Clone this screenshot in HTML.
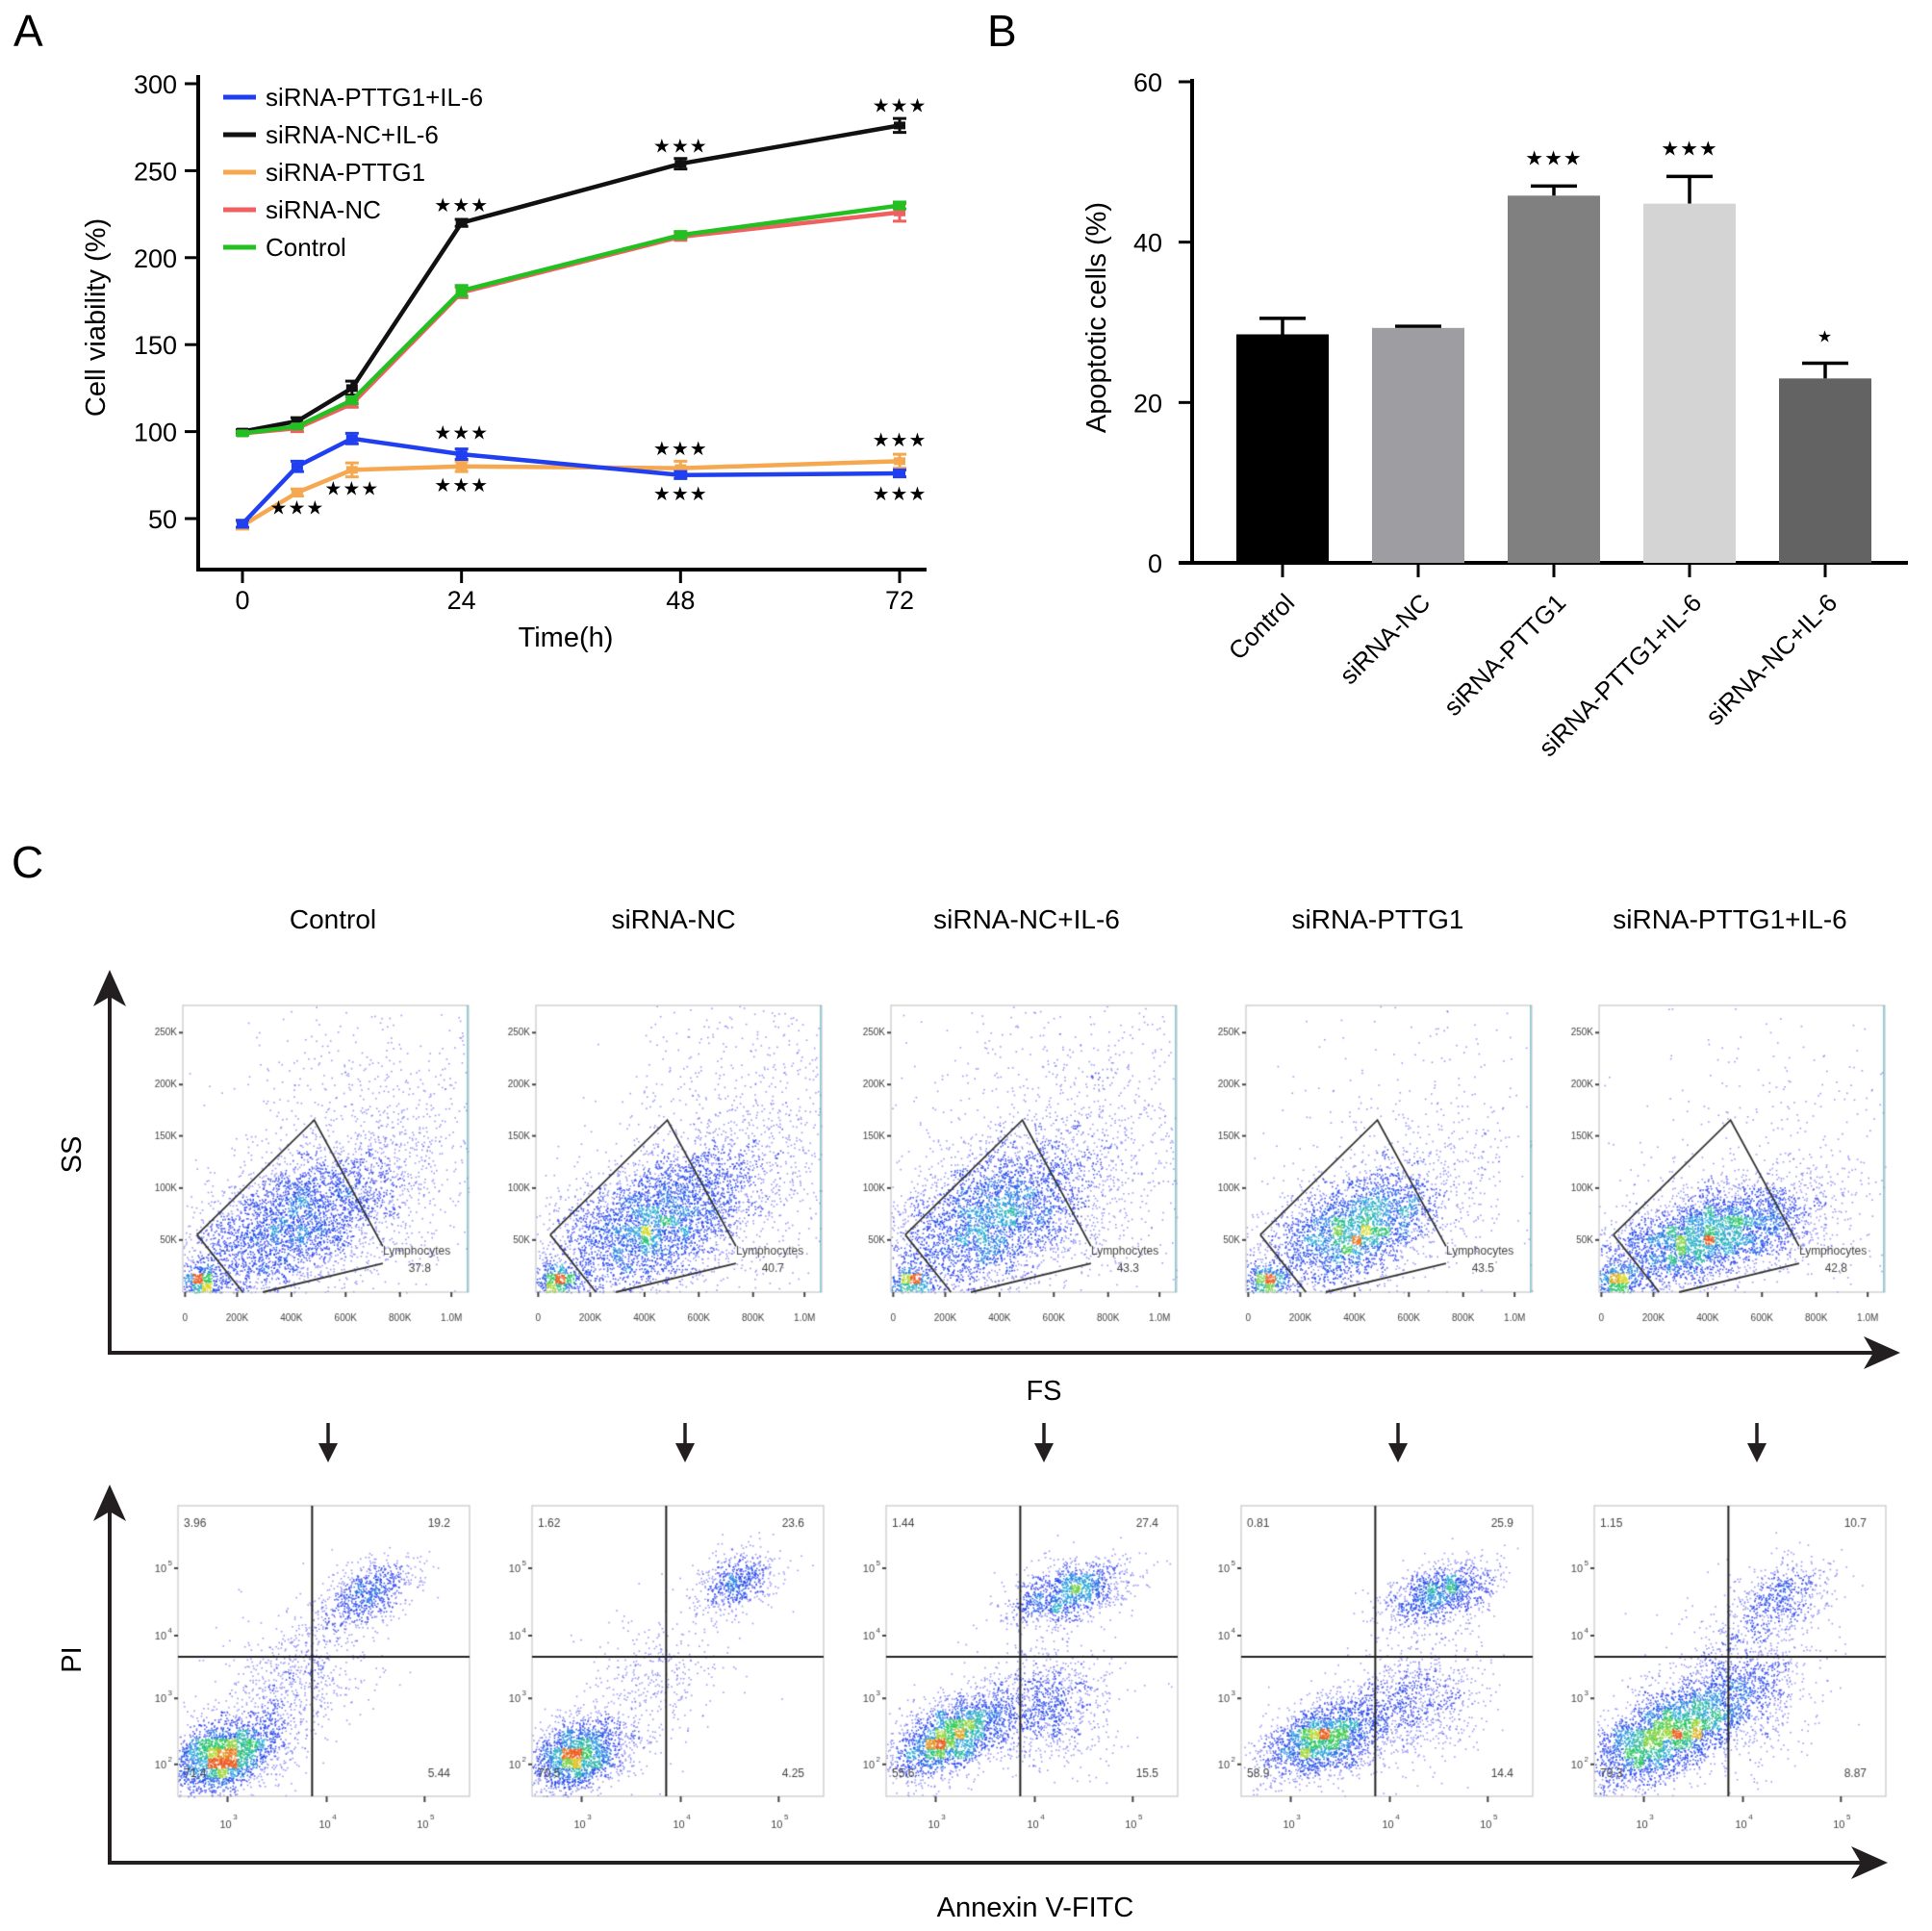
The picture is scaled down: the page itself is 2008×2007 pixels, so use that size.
<!DOCTYPE html>
<html><head><meta charset="utf-8">
<style>
html,body{margin:0;padding:0;background:#fff;}
#wrap{position:relative;width:2008px;height:2007px;overflow:hidden;font-family:"Liberation Sans",Arial,sans-serif;}
svg{position:absolute;left:0;top:0;}
canvas{position:absolute;}
</style></head>
<body>
<div id="wrap">
<svg id="main" width="2008" height="2007" font-family="Liberation Sans, Arial, sans-serif"></svg>
</div>
<script>
// ---------- Panel A data ----------
const timesA = [0, 6, 12, 24, 48, 72];
const seriesNames = ["siRNA-PTTG1+IL-6", "siRNA-NC+IL-6", "siRNA-PTTG1", "siRNA-NC", "Control"];
const seriesColors = ["#1f3ff0", "#111111", "#f5a850", "#f06060", "#22c020"];
const valsBlue = [47, 80, 96, 87, 75, 76];
const valsBlack = [100, 106, 125, 220, 254, 276];
const valsOrange = [46, 65, 78, 80, 79, 83];
const valsRed = [99, 102, 116, 180, 212, 226];
const valsGreen = [99, 103, 118, 181, 213, 230];
const errBlue = [2, 3, 3, 3, 2, 2];
const errBlack = [1, 2, 4, 2, 3, 4];
const errOrange = [2, 2, 4, 3, 4, 4];
const errRed = [1, 2, 2, 3, 2, 5];
const errGreen = [1, 1, 2, 3, 2, 2];
const yTicksA = [50, 100, 150, 200, 250, 300];
const xTicksA = [0, 24, 48, 72];
// star annotations: [time, value, count]
const starsA = [[24, 231, 3], [48, 265, 3], [72, 288, 3], [24, 100, 3], [48, 91, 3], [72, 96, 3], [6, 57, 3], [12, 68, 3], [24, 70, 3], [48, 65, 3], [72, 65, 3]];

// ---------- Panel B data ----------
const catsB = ["Control", "siRNA-NC", "siRNA-PTTG1", "siRNA-PTTG1+IL-6", "siRNA-NC+IL-6"];
const valsB = [28.5, 29.3, 45.8, 44.8, 23.0];
const errB = [2.0, 0.2, 1.2, 3.4, 1.9];
const starsB = ["", "", "★★★", "★★★", "★"];
const barColorsB = ["#000000", "#9d9da2", "#808080", "#d4d4d4", "#636363"];
const yTicksB = [0, 20, 40, 60];

// ---------- Panel C data ----------
const groupsC = ["Control", "siRNA-NC", "siRNA-NC+IL-6", "siRNA-PTTG1", "siRNA-PTTG1+IL-6"];
const gatePct = ["37.8", "40.7", "43.3", "43.5", "42.8"];
const quadUL = ["3.96", "1.62", "1.44", "0.81", "1.15"];
const quadUR = ["19.2", "23.6", "27.4", "25.9", "10.7"];
const quadLL = ["71.4", "70.5", "55.6", "58.9", "79.3"];
const quadLR = ["5.44", "4.25", "15.5", "14.4", "8.87"];
// cluster specs (fractions of plot box): [cx, cy, sx, sy, rot, n]
const fsClusters = [
  [[0.38,0.76,0.22,0.11,-0.5,3500],[0.07,0.96,0.04,0.03,0,350],[0.70,0.48,0.24,0.28,0,900]],
  [[0.40,0.76,0.22,0.11,-0.5,3800],[0.07,0.96,0.04,0.03,0,350],[0.75,0.48,0.22,0.28,0,900]],
  [[0.35,0.74,0.22,0.12,-0.5,3600],[0.07,0.96,0.04,0.03,0,300],[0.65,0.45,0.28,0.28,0,1000]],
  [[0.37,0.78,0.18,0.09,-0.45,3000],[0.07,0.96,0.04,0.03,0,300],[0.65,0.50,0.28,0.28,0,450]],
  [[0.37,0.80,0.21,0.08,-0.30,3800],[0.06,0.96,0.04,0.03,0,350],[0.65,0.55,0.28,0.28,0,350]]
];
const annClusters = [
  [[0.16,0.86,0.10,0.06,-0.4,2200],[0.40,0.60,0.16,0.10,-0.8,800],[0.65,0.30,0.09,0.05,-0.5,700]],
  [[0.15,0.86,0.09,0.06,-0.4,1800],[0.40,0.62,0.16,0.10,-0.8,450],[0.70,0.26,0.07,0.05,-0.5,600]],
  [[0.22,0.79,0.12,0.06,-0.5,2200],[0.55,0.68,0.11,0.10,-0.5,1000],[0.62,0.30,0.11,0.05,-0.3,1200]],
  [[0.28,0.80,0.11,0.06,-0.4,2000],[0.58,0.68,0.13,0.10,-0.5,1000],[0.68,0.30,0.10,0.05,-0.3,1100]],
  [[0.24,0.79,0.15,0.07,-0.5,3000],[0.50,0.62,0.13,0.11,-0.6,1100],[0.63,0.32,0.10,0.06,-0.4,600]]
];

const NS = "http://www.w3.org/2000/svg";
const svg = document.getElementById("main");
function el(tag, attrs, parent) {
  const e = document.createElementNS(NS, tag);
  for (const k in attrs) e.setAttribute(k, attrs[k]);
  (parent || svg).appendChild(e);
  return e;
}
function txt(s, attrs, parent) { const t = el("text", attrs, parent); t.textContent = s; return t; }

// ================= Panel A =================
const gA = el("g", {});


const lA = txt("A", {x: 14, y: 48, "font-size": 46});


function xA(t) { return 252 + t * (935 - 252) / 72; }
function yA(v) { return 539 - (v - 50) * 1.808; }
const axA = el("path", {d: "M206 78 V592 H963", fill: "none", stroke: "#000", "stroke-width": 4}, gA);


yTicksA.forEach(v => {
  el("line", {x1: 192, x2: 206, y1: yA(v), y2: yA(v), stroke: "#000", "stroke-width": 3}, gA);
  const t = txt(String(v), {x: 184, y: yA(v) + 10, "text-anchor": "end", "font-size": 27}, gA);
  
  
});
xTicksA.forEach(v => {
  el("line", {x1: xA(v), x2: xA(v), y1: 592, y2: 606, stroke: "#000", "stroke-width": 3}, gA);
  const t = txt(String(v), {x: xA(v), y: 633, "text-anchor": "middle", "font-size": 27}, gA);
  
  
});
const xtA = txt("Time(h)", {x: 588, y: 672, "text-anchor": "middle", "font-size": 29}, gA);


const ytA = txt("Cell viability (%)", {x: 0, y: 0, "text-anchor": "middle", "font-size": 29, transform: "translate(109,330) rotate(-90)"}, gA);



const allVals = [valsBlue, valsBlack, valsOrange, valsRed, valsGreen];
const allErr = [errBlue, errBlack, errOrange, errRed, errGreen];
const drawOrder = [1, 3, 4, 2, 0];
drawOrder.forEach(si => {
  const vals = allVals[si], errs = allErr[si];
  const pts = timesA.map((t, i) => xA(t) + "," + yA(vals[i])).join(" ");
  const pl = el("polyline", {points: pts, fill: "none", stroke: seriesColors[si], "stroke-width": 4.5}, gA);
  
  
  timesA.forEach((t, i) => {
    const x = xA(t), y1 = yA(vals[i] + errs[i]), y2 = yA(vals[i] - errs[i]);
    el("path", {d: `M${x-7} ${y1}H${x+7}M${x} ${y1}V${y2}M${x-7} ${y2}H${x+7}`, stroke: seriesColors[si], "stroke-width": 3, fill: "none"}, gA);
    const m = el("rect", {x: x - 6, y: yA(vals[i]) - 4, width: 12, height: 8, fill: seriesColors[si]}, gA);
    
    
  });
});
starsA.forEach(s => {
  const t = txt("★".repeat(s[2]), {x: xA(s[0]), y: yA(s[1]) + 8, "text-anchor": "middle", "font-size": 20, "letter-spacing": 1}, gA);
  
  
});
seriesNames.forEach((n, i) => {
  const y = 101 + i * 39;
  const g = el("g", {}, gA);
  
  
  el("line", {x1: 232, x2: 266, y1: y, y2: y, stroke: seriesColors[i], "stroke-width": 5}, g);
  txt(n, {x: 276, y: y + 9, "font-size": 26}, g);
});

// ================= Panel B =================
const gB = el("g", {});


const lB = txt("B", {x: 1026, y: 48, "font-size": 46});


function yB(v) { return 585 - v * 500 / 60; }
function xB(i) { return 1333 + i * 141; }
const axB = el("path", {d: "M1239 82 V585 M1225 585 H1983", fill: "none", stroke: "#000", "stroke-width": 4}, gB);


yTicksB.forEach(v => {
  el("line", {x1: 1225, x2: 1239, y1: yB(v), y2: yB(v), stroke: "#000", "stroke-width": 3}, gB);
  const t = txt(String(v), {x: 1208, y: yB(v) + 10, "text-anchor": "end", "font-size": 27}, gB);
  
  
});
const ytB = txt("Apoptotic cells (%)", {x: 0, y: 0, "text-anchor": "middle", "font-size": 29, transform: "translate(1149,330) rotate(-90)"}, gB);


catsB.forEach((c, i) => {
  const cx = xB(i), top = yB(valsB[i]), et = yB(valsB[i] + errB[i]);
  el("path", {d: `M${cx} ${top}V${et}M${cx-24} ${et}H${cx+24}`, stroke: "#000", "stroke-width": 3.5, fill: "none"}, gB);
  const b = el("rect", {x: cx - 48, y: top, width: 96, height: 585 - top, fill: barColorsB[i]}, gB);
  
  
  el("line", {x1: cx, x2: cx, y1: 585, y2: 600, stroke: "#000", "stroke-width": 3}, gB);
  const t = txt(c, {x: 0, y: 0, "text-anchor": "end", "font-size": 26, transform: `translate(${cx + 14},${628}) rotate(-45)`}, gB);
  
  
  if (starsB[i]) {
    const s = txt(starsB[i], {x: cx, y: et - 22, "text-anchor": "middle", "font-size": starsB[i].length > 1 ? 21 : 17, "letter-spacing": 1}, gB);
    
    
  }
});

// ================= Panel C =================
const gC = el("g", {});


const lC = txt("C", {x: 12, y: 912, "font-size": 46});


const titleX = [346, 700, 1067, 1432, 1798];
groupsC.forEach((g, i) => {
  const t = txt(g, {x: titleX[i], y: 965, "text-anchor": "middle", "font-size": 28}, gC);
  
  
});
function arrowV(x, yb, ytip, name) {
  const g = el("g", {}, gC);
  
  
  el("line", {x1: x, x2: x, y1: yb, y2: ytip + 20, stroke: "#231f20", "stroke-width": 4}, g);
  el("path", {d: `M${x} ${ytip} L${x-17} ${ytip+38} L${x} ${ytip+28} L${x+17} ${ytip+38}Z`, fill: "#231f20"}, g);
}
function arrowH(y, xl, xtip, name) {
  const g = el("g", {}, gC);
  
  
  el("line", {x1: xl, x2: xtip - 20, y1: y, y2: y, stroke: "#231f20", "stroke-width": 4}, g);
  el("path", {d: `M${xtip} ${y} L${xtip-38} ${y-17} L${xtip-28} ${y} L${xtip-38} ${y+17}Z`, fill: "#231f20"}, g);
}
arrowV(114, 1408, 1008, "ss-axis-arrow");
arrowH(1406, 112, 1975, "fs-axis-arrow");
arrowV(114, 1938, 1543, "pi-axis-arrow");
arrowH(1936, 112, 1962, "annexin-axis-arrow");
const axLabels = [["SS", "translate(84,1200) rotate(-90)"], ["PI", "translate(84,1725) rotate(-90)"]];
axLabels.forEach(a => {
  const t = txt(a[0], {x: 0, y: 0, "text-anchor": "middle", "font-size": 29, transform: a[1]}, gC);
  
  
});
const fsT = txt("FS", {x: 1085, y: 1455, "text-anchor": "middle", "font-size": 29}, gC);


const anT = txt("Annexin V-FITC", {x: 1076, y: 1992, "text-anchor": "middle", "font-size": 29}, gC);


const downX = [341, 712, 1085, 1453, 1826];
downX.forEach(x => {
  const g = el("g", {}, gC);
  
  
  el("line", {x1: x, x2: x, y1: 1479, y2: 1505, stroke: "#231f20", "stroke-width": 3.5}, g);
  el("path", {d: `M${x} 1520 L${x-10} 1500 L${x+10} 1500Z`, fill: "#231f20"}, g);
});

const topLefts = [190, 557, 926, 1295, 1662];
const botLefts = [185, 553, 921, 1290, 1657];
let seed = 12345;
function rnd() { seed |= 0; seed = seed + 0x6D2B79F5 | 0; let t = Math.imul(seed ^ seed >>> 15, 1 | seed); t = t + Math.imul(t ^ t >>> 7, 61 | t) ^ t; return ((t ^ t >>> 14) >>> 0) / 4294967296; }
function gauss() { return Math.sqrt(-2 * Math.log(rnd() + 1e-9)) * Math.cos(2 * Math.PI * rnd()); }
function densColor(f) {
  const stops = [[0, [80, 70, 235]], [0.35, [30, 70, 235]], [0.55, [40, 170, 220]], [0.72, [40, 200, 90]], [0.88, [220, 220, 40]], [1, [235, 90, 30]]];
  for (let i = 1; i < stops.length; i++) if (f <= stops[i][0]) {
    const a = stops[i - 1], b = stops[i], u = (f - a[0]) / (b[0] - a[0]);
    return `rgb(${a[1].map((c, k) => Math.round(c + (b[1][k] - c) * u)).join(",")})`;
  }
  return "rgb(235,90,30)";
}
function drawDots(ctx, W, H, clusters) {
  const pts = [];
  clusters.forEach(c => {
    for (let i = 0; i < c[5]; i++) {
      const a = gauss() * c[2], b = gauss() * c[3];
      const x = c[0] + a * Math.cos(c[4]) - b * Math.sin(c[4]);
      const y = c[1] + a * Math.sin(c[4]) + b * Math.cos(c[4]);
      if (x > 0 && x < 1 && y > 0 && y < 1) pts.push([x * W, y * H]);
    }
  });
  const G = 30, grid = new Float32Array(G * G);
  pts.forEach(p => grid[Math.floor(p[1] / H * G) * G + Math.floor(p[0] / W * G)]++);
  let mx = 0; grid.forEach(v => mx = Math.max(mx, v));
  pts.forEach(p => p.push(grid[Math.floor(p[1] / H * G) * G + Math.floor(p[0] / W * G)] / mx));
  pts.sort((a, b) => a[2] - b[2]);
  pts.forEach(p => { ctx.fillStyle = densColor(Math.pow(p[2], 1.1)); ctx.globalAlpha = p[2] < 0.15 ? 0.55 : 0.85; ctx.fillRect(p[0], p[1], 1.6, 1.6); });
  ctx.globalAlpha = 1;
}
const wrap = document.getElementById("wrap");
function makeCanvas(x, y, w, h, name) {
  const c = document.createElement("canvas");
  c.width = w + 60; c.height = h + 60;
  c.style.left = (x - 40) + "px"; c.style.top = (y - 10) + "px";
  
  
  wrap.insertBefore(c, svg);
  const ctx = c.getContext("2d");
  ctx.translate(40, 10);
  return ctx;
}
const fsYT = [["250K", 0.095], ["200K", 0.276], ["150K", 0.455], ["100K", 0.637], ["50K", 0.818]];
const fsXT = [["0", 0.008], ["200K", 0.19], ["400K", 0.38], ["600K", 0.57], ["800K", 0.76], ["1.0M", 0.94]];
const anYT = [["5", 0.215], ["4", 0.447], ["3", 0.663], ["2", 0.89]];
const anXT = [["3", 0.17], ["4", 0.51], ["5", 0.846]];
groupsC.forEach((g, i) => {
  const W = 297, H = 298, x0 = topLefts[i], y0 = 1045;
  const ctx = makeCanvas(x0, y0, W, H, 'fs-ss-plot-' + g.toLowerCase().replace(/[^a-z0-9]+/g, '-'));
  drawDots(ctx, W, H, fsClusters[i]);
  ctx.strokeStyle = "#bbb"; ctx.lineWidth = 1; ctx.strokeRect(0, 0, W, H);
  ctx.fillStyle = "rgba(60,170,190,0.6)"; ctx.fillRect(W - 2, 0, 1.5, H);
  ctx.strokeStyle = "#333"; ctx.lineWidth = 1.8;
  ctx.beginPath();
  ctx.moveTo(0.05 * W, 0.80 * H); ctx.lineTo(0.46 * W, 0.40 * H); ctx.lineTo(0.70 * W, 0.84 * H);
  ctx.moveTo(0.05 * W, 0.80 * H); ctx.lineTo(0.21 * W, H);
  ctx.moveTo(0.28 * W, H); ctx.lineTo(0.70 * W, 0.90 * H);
  ctx.stroke();
  ctx.fillStyle = "#444"; ctx.font = "12px Liberation Sans";
  ctx.fillText("Lymphocytes", 0.70 * W, 0.87 * H);
  ctx.fillText(gatePct[i], 0.79 * W, 0.93 * H);
  ctx.font = "10px Liberation Sans"; ctx.textAlign = "right";
  fsYT.forEach(t => { ctx.fillText(t[0], -6, t[1] * H + 3); ctx.fillRect(-4, t[1] * H - 1, 4, 2); });
  ctx.textAlign = "center";
  fsXT.forEach(t => { ctx.fillText(t[0], t[1] * W, H + 30); ctx.fillRect(t[1] * W - 1, H, 2, 5); });

  const W2 = 303, H2 = 302, x1 = botLefts[i], y1 = 1565;
  const c2 = makeCanvas(x1, y1, W2, H2, 'annexin-pi-plot-' + g.toLowerCase().replace(/[^a-z0-9]+/g, '-'));
  drawDots(c2, W2, H2, annClusters[i]);
  c2.strokeStyle = "#bbb"; c2.lineWidth = 1; c2.strokeRect(0, 0, W2, H2);
  c2.strokeStyle = "#222"; c2.lineWidth = 2;
  c2.beginPath(); c2.moveTo(0.46 * W2, 0); c2.lineTo(0.46 * W2, H2); c2.moveTo(0, 0.52 * H2); c2.lineTo(W2, 0.52 * H2); c2.stroke();
  c2.fillStyle = "#444"; c2.font = "12px Liberation Sans"; c2.textAlign = "left";
  c2.fillText(quadUL[i], 6, 22); c2.fillText(quadLL[i], 6, H2 - 20);
  c2.textAlign = "right";
  c2.fillText(quadUR[i], W2 - 20, 22); c2.fillText(quadLR[i], W2 - 20, H2 - 20);
  anYT.forEach(t => { c2.font = "11px Liberation Sans"; c2.fillText("10", -12, t[1] * H2 + 4); c2.font = "8px Liberation Sans"; c2.fillText(t[0], -6, t[1] * H2 - 3); c2.fillRect(-4, t[1] * H2 - 1, 4, 2); });
  c2.textAlign = "center";
  anXT.forEach(t => { c2.font = "11px Liberation Sans"; c2.fillText("10", t[1] * W2 - 2, H2 + 33); c2.font = "8px Liberation Sans"; c2.fillText(t[0], t[1] * W2 + 8, H2 + 24); c2.fillRect(t[1] * W2 - 1, H2, 2, 6); });
});
</script>
</body></html>
